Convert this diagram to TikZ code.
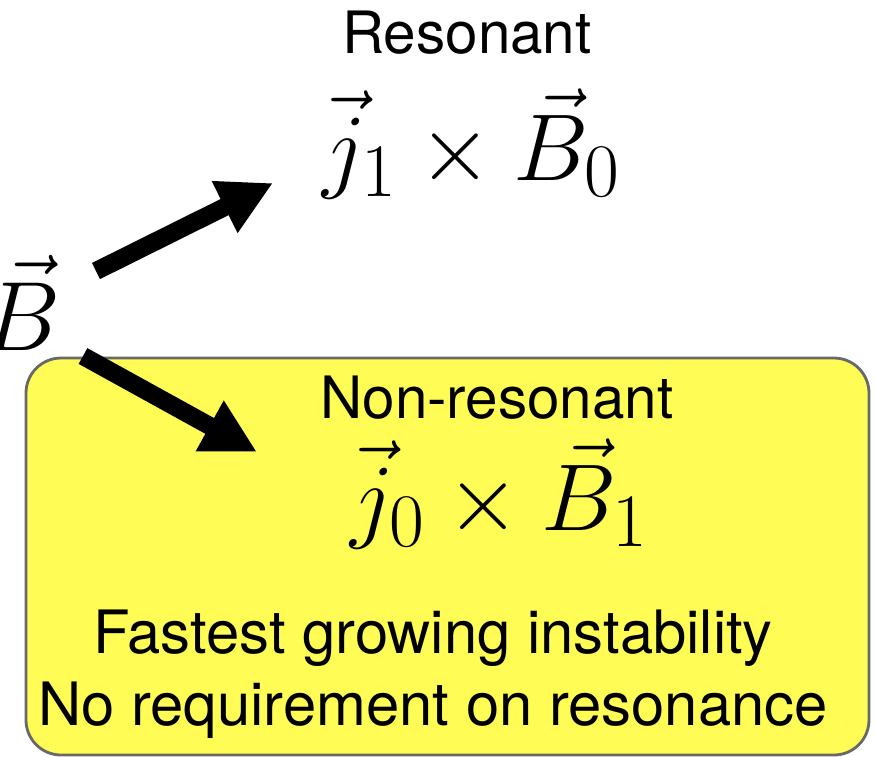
\documentclass[tikz,border=0pt]{standalone}
\usepackage{fix-cm}
\usepackage{fontspec}
\setmainfont{TeX Gyre Heros}
\usetikzlibrary{arrows.meta}

\DeclareMathSizes{27}{27}{21.5}{17}
\DeclareMathSizes{28}{28}{22}{17}
\definecolor{boxyellow}{RGB}{255,252,85}
\definecolor{boxgray}{RGB}{105,105,105}

\begin{document}
\begin{tikzpicture}[x=0.01cm, y=-0.01cm,
    words/.style={font=\fontsize{16.6}{20}\selectfont, inner sep=0pt},
    note/.style={font=\fontsize{17}{20}\selectfont, inner sep=0pt},
    expr/.style={font=\fontsize{27}{32}\selectfont, inner sep=0pt},
    bigarrow/.style={line width=0.18cm, -{Triangle[length=0.54cm, width=0.54cm]}}]
    \useasboundingbox (0,0) rectangle (875,756);

    % Draw the yellow box
    \draw[draw=boxgray, line width=0.8pt, fill=boxyellow, rounded corners=0.35cm]
        (26,358) rectangle (869,755);

    % The field on the left
    \node[font=\fontsize{28}{32}\selectfont, inner sep=0pt, anchor=base east] (bvec) at (61,350) {$\vec{B}$};

    % Resonant term
    \node[words, anchor=base] (reslabel) at (467,53) {Resonant};
    \node[expr, anchor=base] (resexpr) at (472,180) {$\vec{j}_1\times\vec{B}_0$};

    % Non-resonant term
    \node[words, anchor=base] (nonreslabel) at (497,418) {Non-resonant};
    \node[expr, anchor=base] (nonresexpr) at (500,530) {$\vec{j}_0\times\vec{B}_1$};
    \node[note, anchor=base] (fastest) at (433,653) {Fastest growing instability};
    \node[note, anchor=base] (noreq) at (433,725) {No requirement on resonance};

    % Arrows
    \draw[bigarrow] ([shift={(35,-79)}]bvec.base east) -- ([shift={(-199,3)}]resexpr.base);
    \draw[bigarrow] ([shift={(22,6)}]bvec.base east) -- ([shift={(-243,-78)}]nonresexpr.base);

\end{tikzpicture}
\end{document}
